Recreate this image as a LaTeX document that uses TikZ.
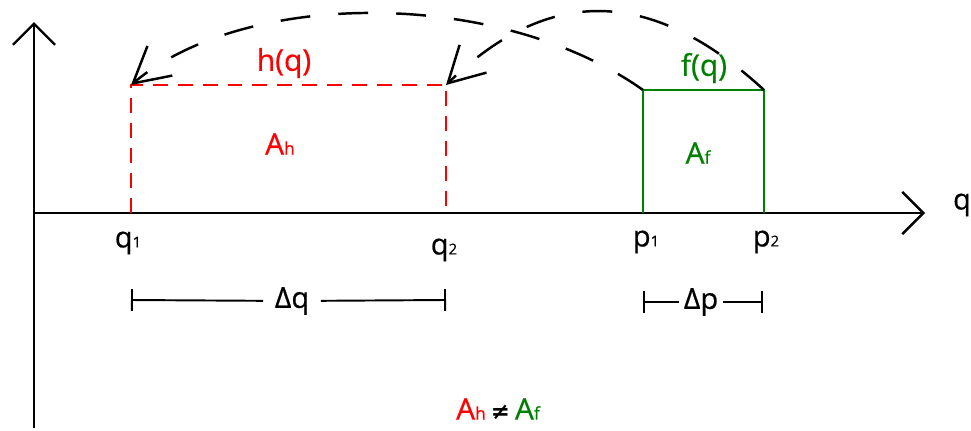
\documentclass[tikz,border=0pt]{standalone}
\usepackage{fontspec}
\setmainfont{Open Sans}[UprightFeatures={FakeBold=0.6}]
\newfontfamily\symfont{DejaVu Sans}
\usetikzlibrary{arrows.meta,bending}
\definecolor{hred}{RGB}{255,0,0}
\definecolor{fgreen}{RGB}{0,128,0}
\newcommand{\lo}[1]{{\fontsize{8.5}{9}\selectfont #1}}
\newcommand{\loA}[1]{{\fontsize{10}{11}\selectfont #1}}

\begin{document}
\begin{tikzpicture}[x=0.02cm, y=-0.02cm, font=\fontsize{16.5}{18}\selectfont,
  axis/.style={line width=1.4pt, -{Straight Barb[length=12pt, width=24pt]}},
  hside/.style={hred, line width=1.5pt, dash pattern=on 8.5pt off 5.7pt},
  fside/.style={fgreen, line width=1.2pt},
  maparc/.style={line width=1.4pt, dash pattern=on 17pt off 16pt, -{Straight Barb[length=20pt, width=22pt, quick]}},
  span/.style={line width=1.1pt, {Bar[width=12.5pt]}-},
  big/.style={font=\fontsize{17}{19}\selectfont}]
  \useasboundingbox (0,0) rectangle (971,430);
  % axes
  \coordinate (O) at (34,213);
  \coordinate (ytop) at (34,22);
  \coordinate (ybot) at (34,428);
  \coordinate (xend) at (925,213);
  \draw[axis] (ybot) -- (ytop);
  \draw[axis] (O) -- (xend);
  \node (qax) at (962,205) {q};
  % the interval of h
  \coordinate (q1) at (131,213);
  \coordinate (q2) at (446,213);
  \coordinate (q1t) at (131,85);
  \coordinate (q2t) at (446,85);
  \draw[hside] (q1) -- (q1t) -- (q2t) -- (q2);
  \node[big, hred] (hq) at (284,63) {h(q)};
  \node[big, hred] (Ah) at (280,144) {A\loA{h}};
  % the interval of f
  \coordinate (p1) at (643,213);
  \coordinate (p2) at (764,213);
  \coordinate (p1t) at (643,90);
  \coordinate (p2t) at (764,90);
  \draw[fside] (p1) -- (p1t) -- (p2t) -- (p2);
  \node[big, fgreen] (fq) at (704,68) {f(q)};
  \node[big, fgreen] (Af) at (698,153) {A\loA{f}};
  % end points
  \node (lq1) at (128,243) {q\lo{1}};
  \node (lq2) at (444,250) {q\lo{2}};
  \node (lp1) at (646,242) {p\lo{1}};
  \node (lp2) at (766,242) {p\lo{2}};
  % the mapping of p onto q
  \draw[maparc] (p1t) .. controls (500,-11.5) and (246,-11.5) .. (q1t);
  \draw[maparc] (p2t) .. controls (651,-14) and (548,-14) .. (q2t);
  % widths
  \coordinate (dqa) at (131,300);
  \coordinate (dqb) at (446,300);
  \node[inner xsep=6.5pt] (dq) at (292,301) {Δq};
  \draw[span] (dqa) -- (dq);
  \draw[span] (dqb) -- (dq);
  \coordinate (dpa) at (643,302);
  \coordinate (dpb) at (763,302);
  \node[inner xsep=2.5pt] (dp) at (701,302) {Δp};
  \draw[span] (dpa) -- (dp);
  \draw[span] (dpb) -- (dp);
  % areas
  \node[big] (neq) at (498,409) {\textcolor{hred}{A\loA{h}}\,{\symfont\bfseries\fontsize{13}{14}\selectfont ≠}\,\textcolor{fgreen}{A\loA{f}}};
\end{tikzpicture}
\end{document}
